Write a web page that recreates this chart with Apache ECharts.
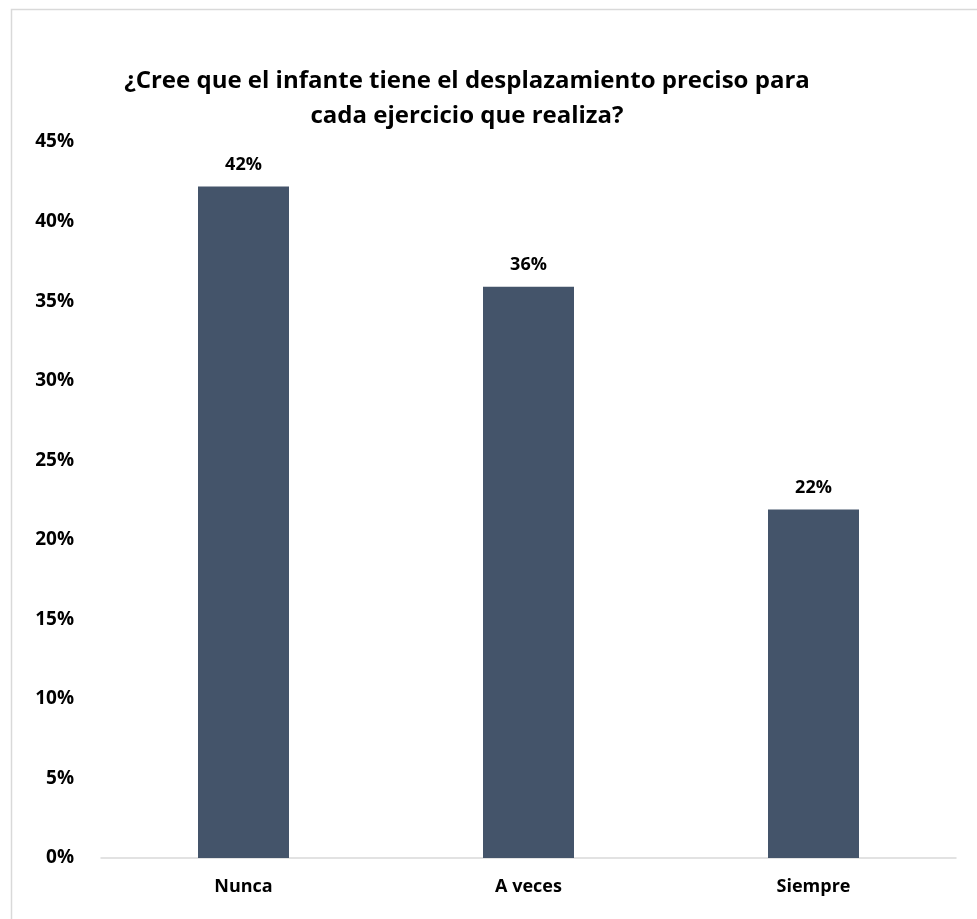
<!DOCTYPE html>
<html><head><meta charset="utf-8">
<script src="https://cdn.jsdelivr.net/npm/echarts@6/dist/echarts.min.js"></script>
<style>html,body{margin:0;padding:0;background:#fff}#c{width:977px;height:919px}</style>
</head><body><div id="c"></div>
<script>
const categories = ['Nunca', 'A veces', 'Siempre'];
const values = [0.422, 0.359, 0.219];
const titleText = '¿Cree que el infante tiene el desplazamiento preciso para\ncada ejercicio que realiza?';

const chart = echarts.init(document.getElementById('c'), null, {renderer: 'canvas'});
const F = 'Open Sans, Liberation Sans, sans-serif';
chart.setOption({
  animation: false,
  graphic: [{type: 'rect', shape: {x: 11.5, y: 9.5, width: 980, height: 920}, style: {fill: 'none', stroke: '#d9d9d9', lineWidth: 1.5}, z: -1}],
  title: {text: titleText, left: 462, top: 59, textAlign: 'center',
    textStyle: {fontFamily: F, fontWeight: 'bold', fontSize: 24, lineHeight: 35, color: '#000'}},
  grid: {left: 101, right: 21, top: 142, bottom: 61},
  xAxis: {type: 'category', data: categories,
    axisLine: {lineStyle: {color: '#d9d9d9', width: 1.5}}, axisTick: {show: false},
    axisLabel: {fontFamily: F, fontWeight: 'bold', fontSize: 18, color: '#000', margin: 20}},
  yAxis: {type: 'value', min: 0, max: 0.45, interval: 0.05,
    splitLine: {show: false}, axisLine: {show: false}, axisTick: {show: false},
    axisLabel: {fontFamily: F, fontWeight: 'bold', fontSize: 19, color: '#000', margin: 27,
      formatter: v => Math.round(v * 100) + '%'}},
  series: [{type: 'bar', data: values, barWidth: 91, itemStyle: {color: '#44546a'},
    label: {show: true, position: 'top', distance: 13, fontFamily: F, fontWeight: 'bold', fontSize: 18, color: '#000',
      formatter: p => Math.round(p.value * 100) + '%'}}]
});
</script></body></html>
